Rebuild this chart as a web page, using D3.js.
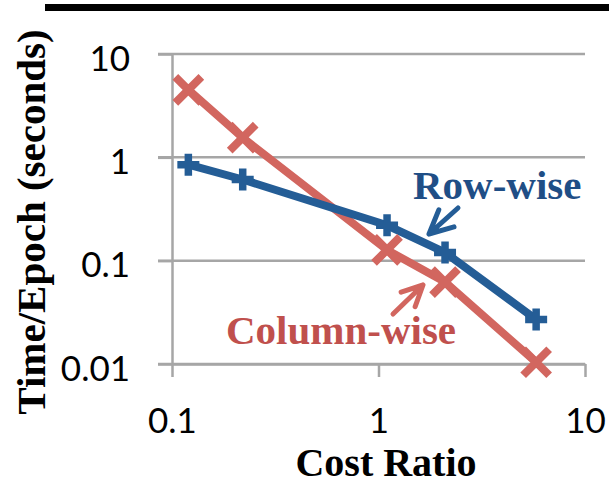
<!DOCTYPE html>
<html>
<head>
<meta charset="utf-8">
<script src="https://cdn.jsdelivr.net/npm/d3@7"></script>
<style>
  body { margin: 0; background: #fff; }
</style>
</head>
<body>
<div id="chart"></div>
<script>
// data
var costRatio = [0.12, 0.22, 1.1, 2.1, 5.8];
var rowWise = [0.85, 0.61, 0.22, 0.12, 0.027];
var columnWise = [4.5, 1.55, 0.127, 0.062, 0.0104];
var xTicks = [0.1, 1, 10];
var yTicks = [10, 1, 0.1, 0.01];

var width = 609, height = 484;
var blue = "#245d96", red = "#d2665f";

var svg = d3.select("#chart")
    .append("svg")
        .attr("width", width)
        .attr("height", height);

// thick rule along the top
svg.append("rect")
    .attr("x", 45).attr("y", 4)
    .attr("width", width - 45).attr("height", 7)
    .attr("fill", "#000");

var x = d3.scaleLog()
    .domain([0.1, 10])
    .range([172, 585]);

var y = d3.scaleLog()
    .domain([0.01, 10])
    .range([364, 54]);

// gridlines
svg.append("g")
  .selectAll("line")
  .data(yTicks)
  .enter()
  .append("line")
    .attr("x1", 158)
    .attr("x2", x(10))
    .attr("y1", function(d) { return y(d); })
    .attr("y2", function(d) { return y(d); })
    .attr("stroke", "#a6a6a6")
    .attr("stroke-width", 2.5);

// y axis
var yAxis = svg.append("g")
    .attr("transform", "translate(" + x(0.1) + ",0)")
    .call(d3.axisLeft(y).tickValues(yTicks).tickSize(14).tickSizeOuter(0)
          .tickFormat(function(d) { return String(d); }));
yAxis.select(".domain").attr("stroke", "#a6a6a6").attr("stroke-width", 2.5);
yAxis.selectAll(".tick line").attr("stroke", "#a6a6a6").attr("stroke-width", 2.5);
yAxis.selectAll(".tick text")
    .attr("x", -42)
    .attr("dy", null)
    .attr("y", 16)
    .style("font-family", "Lato, 'Open Sans', sans-serif")
    .style("font-size", "35px")
    .attr("fill", "#000");

// x axis
var xAxis = svg.append("g")
    .attr("transform", "translate(0," + y(0.01) + ")")
    .call(d3.axisBottom(x).tickValues(xTicks).tickSize(13).tickSizeOuter(0)
          .tickFormat(function(d) { return String(d); }));
xAxis.select(".domain").attr("stroke", "#a6a6a6").attr("stroke-width", 2.5);
xAxis.selectAll(".tick line").attr("stroke", "#a6a6a6").attr("stroke-width", 2.5);
xAxis.selectAll(".tick text")
    .attr("dy", null)
    .attr("y", 69)
    .style("font-family", "Lato, 'Open Sans', sans-serif")
    .style("font-size", "35px")
    .attr("fill", "#000");

// axis titles
svg.append("text")
    .attr("x", 386)
    .attr("y", 476)
    .attr("text-anchor", "middle")
    .style("font-family", "'Liberation Serif', 'Times New Roman', serif")
    .style("font-weight", "bold")
    .style("font-size", "40px")
    .text("Cost Ratio");

svg.append("text")
    .attr("transform", "translate(45,222) rotate(-90)")
    .attr("text-anchor", "middle")
    .style("font-family", "'Liberation Serif', 'Times New Roman', serif")
    .style("font-weight", "bold")
    .style("font-size", "41px")
    .text("Time/Epoch (seconds)");

var line = d3.line()
    .x(function(d) { return x(d[0]); })
    .y(function(d) { return y(d[1]); });

var rowData = d3.zip(costRatio, rowWise);
var colData = d3.zip(costRatio, columnWise);

svg.append("path")
    .datum(colData)
    .attr("d", line)
    .attr("fill", "none")
    .attr("stroke", red)
    .attr("stroke-width", 8);

svg.append("path")
    .datum(rowData)
    .attr("d", line)
    .attr("fill", "none")
    .attr("stroke", blue)
    .attr("stroke-width", 8);

// x markers
svg.append("g")
  .selectAll("path")
  .data(colData)
  .enter()
  .append("path")
    .attr("transform", function(d) { return "translate(" + x(d[0]) + "," + y(d[1]) + ")"; })
    .attr("d", "M-13,-13L13,13M-13,13L13,-13")
    .attr("stroke", red)
    .attr("stroke-width", 8)
    .attr("fill", "none");

// plus markers
svg.append("g")
  .selectAll("path")
  .data(rowData)
  .enter()
  .append("path")
    .attr("transform", function(d) { return "translate(" + x(d[0]) + "," + y(d[1]) + ")"; })
    .attr("d", "M-11,0L11,0M0,-11L0,11")
    .attr("stroke", blue)
    .attr("stroke-width", 7.5)
    .attr("fill", "none");

// annotations
var arrow = function(tipX, tipY, tailX, tailY, len, color) {
  var a = Math.atan2(tailY - tipY, tailX - tipX);
  var spread = 26 * Math.PI / 180;
  var p = "M" + tailX + "," + tailY + "L" + tipX + "," + tipY +
          "M" + (tipX + len * Math.cos(a - spread)) + "," + (tipY + len * Math.sin(a - spread)) +
          "L" + tipX + "," + tipY +
          "L" + (tipX + len * Math.cos(a + spread)) + "," + (tipY + len * Math.sin(a + spread));
  svg.append("path")
      .attr("d", p)
      .attr("fill", "none")
      .attr("stroke", color)
      .attr("stroke-width", 5)
      .attr("stroke-linecap", "round")
      .attr("stroke-linejoin", "round");
};

arrow(429, 234, 458, 208, 26, blue);
arrow(423, 285, 393, 314, 23, red);

svg.append("text")
    .attr("x", 413)
    .attr("y", 199)
    .style("font-family", "'Liberation Serif', 'Times New Roman', serif")
    .style("font-weight", "bold")
    .style("font-size", "41px")
    .attr("fill", "#1f4e86")
    .text("Row-wise");

svg.append("text")
    .attr("x", 226)
    .attr("y", 344)
    .style("font-family", "'Liberation Serif', 'Times New Roman', serif")
    .style("font-weight", "bold")
    .style("font-size", "41px")
    .attr("fill", "#c0504d")
    .text("Column-wise");
</script>
</body>
</html>
